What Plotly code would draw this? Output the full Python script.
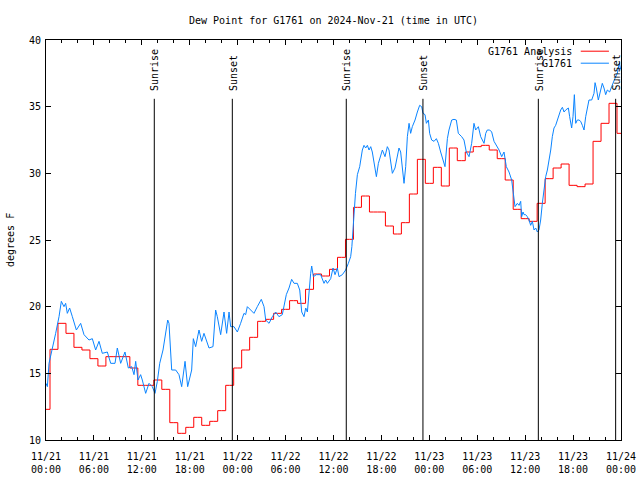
import pandas as pd
import plotly.graph_objects as go

# ---------------- data ----------------
BASE = "2024-11-21 00:00"

# hourly analysis values (hours after 11/21 00:00 UTC)
analysis_hours = list(range(0, 73))
analysis_values = [
    12.3, 16.8, 18.75, 18.0, 16.95, 16.75, 16.1, 15.55, 16.25, 16.25,
    16.25, 15.4, 14.1, 14.1, 14.5, 13.8, 11.3, 10.5, 10.95, 11.7,
    11.1, 11.4, 12.2, 14.1, 15.4, 16.75, 17.7, 18.9, 19.05, 19.5,
    19.8, 20.45, 20.25, 21.3, 22.45, 22.3, 22.8, 23.7, 25.05, 27.45,
    28.3, 27.1, 27.1, 26.05, 25.45, 26.3, 28.45, 31.05, 29.25, 30.45,
    29.05, 31.9, 30.95, 31.6, 32.0, 32.1, 31.75, 31.1, 29.5, 27.3,
    26.6, 26.4, 27.75, 29.6, 30.4, 30.7, 29.1, 29.0, 29.2, 32.4,
    33.75, 35.25, 33.0,
]

# station observations (hours after 11/21 00:00 UTC)
obs_hours = [
    0.0, 0.17, 0.38, 0.79, 1.21, 1.63, 1.92, 2.25, 2.46, 2.67, 2.96, 3.30, 3.80,
    4.34, 4.76, 5.38, 5.80, 6.22, 6.64, 7.05, 7.68, 8.10, 8.64, 8.93, 9.35, 9.89,
    10.31, 10.73, 11.02, 11.23, 11.52, 11.85, 12.06, 12.48, 12.90, 13.31, 13.65,
    13.94, 14.24, 14.65, 14.99, 15.24, 15.40, 15.74, 16.24, 16.65, 16.99, 17.41,
    17.74, 18.24, 18.45, 18.74, 19.16, 19.49, 19.78, 20.41, 20.91, 21.24, 21.45,
    21.87, 22.29, 22.62, 22.92, 23.12, 23.54, 23.96, 24.37, 24.79, 25.0, 25.21,
    25.63, 26.04, 26.46, 26.96, 27.30, 27.51, 27.93, 28.34, 28.76, 29.17, 29.59,
    29.80, 30.09, 30.43, 30.76, 31.06, 31.47, 31.77, 32.02, 32.31, 32.52, 32.73,
    32.94, 33.14, 33.27, 33.48, 33.85, 34.39, 34.81, 35.02, 35.23, 35.65, 35.94,
    36.19, 36.48, 36.69, 37.11, 37.52, 37.86, 38.15, 38.30, 38.44, 38.60, 38.75,
    38.99, 39.28, 39.61, 39.82, 40.03, 40.24, 40.45, 40.66, 40.86, 41.07, 41.37,
    41.62, 41.91, 42.12, 42.45, 42.74, 42.95, 43.16, 43.37, 43.70, 43.87, 44.20,
    44.41, 44.62, 44.83, 45.04, 45.25, 45.46, 45.66, 45.87, 46.21, 46.50, 46.79,
    47.04, 47.21, 47.46, 47.63, 47.88, 48.04, 48.29, 48.59, 48.88, 49.13, 49.42,
    49.71, 49.96, 50.26, 50.46, 50.80, 51.09, 51.38, 51.63, 52.05, 52.34, 52.63,
    52.97, 53.30, 53.59, 53.80, 54.14, 54.43, 54.64, 54.85, 55.06, 55.26, 55.56,
    55.81, 56.10, 56.39, 56.73, 57.06, 57.35, 57.64, 57.98, 58.31, 58.48, 58.73,
    59.02, 59.23, 59.44, 59.56, 59.73, 59.86, 60.06, 60.27, 60.48, 60.69, 60.90,
    61.11, 61.32, 61.53, 61.73, 61.94, 62.15, 62.36, 62.57, 62.78, 62.99, 63.20,
    63.40, 63.61, 63.82, 64.03, 64.24, 64.45, 64.66, 64.87, 65.07, 65.41, 65.57,
    65.82, 65.99, 66.16, 66.33, 66.53, 66.74, 66.95, 67.16, 67.37, 67.58, 67.79,
    67.99, 68.33, 68.62, 68.75, 68.91, 69.16, 69.46, 69.66, 69.87, 70.08, 70.29,
    70.58, 70.83, 71.13, 71.33, 71.54, 71.80, 71.95,
]
obs_values = [
    14.25, 14.0, 15.75, 17.0, 18.0, 19.25, 20.4, 20.0, 20.25, 19.5, 19.9, 19.25, 18.25,
    18.75, 17.9, 17.5, 17.6, 16.75, 17.4, 16.5, 16.6, 15.75, 15.75, 16.9, 15.75, 16.6,
    15.4, 15.5, 14.9, 15.9, 14.5, 14.9, 14.5, 13.5, 14.25, 14.0, 13.5,
    14.4, 15.75, 16.75, 18.25, 19.0, 18.75, 15.25, 15.25, 14.9, 14.0, 15.9,
    14.0, 15.25, 17.6, 17.0, 18.25, 17.4, 18.0, 16.9, 17.0, 19.75, 19.25,
    17.9, 19.6, 18.0, 19.6, 18.5, 18.5, 18.1, 18.75, 19.5, 19.4, 20.0,
    19.75, 19.5, 20.0, 20.55, 20.0, 19.0, 18.75, 19.25, 19.6, 19.25, 19.4,
    20.0, 20.9, 21.4, 22.05, 21.75, 21.75, 21.25, 19.6, 19.25, 19.9, 19.6,
    21.25, 22.5, 23.05, 22.25, 22.4, 22.4, 21.75, 22.0, 21.75, 22.1, 22.9,
    22.4, 22.9, 22.25, 22.4, 22.75, 23.25, 23.75, 24.5, 26.0, 27.5, 28.5,
    29.9, 30.5, 31.75, 32.1, 31.9, 32.1, 31.75, 32.0, 31.6, 30.75, 29.75,
    30.75, 31.25, 31.75, 31.25, 32.0, 31.75, 31.0, 30.0, 30.4, 31.0, 31.9,
    31.6, 30.25, 29.25, 30.5, 32.75, 33.75, 33.0, 33.5, 34.0, 34.6, 35.1,
    35.0, 34.5, 34.4, 33.75, 34.0, 33.0, 32.5, 32.4, 32.6, 32.25, 31.6,
    31.0, 30.5, 32.6, 33.25, 34.0, 34.05, 34.0, 33.0, 32.75, 32.5, 31.6,
    31.25, 32.25, 33.75, 33.25, 33.5, 32.75, 32.5, 32.25, 33.0, 33.25, 33.25,
    33.1, 32.4, 32.1, 31.75, 31.25, 31.6, 30.5, 30.1, 29.5, 28.5, 27.5,
    27.75, 27.6, 27.9, 26.75, 27.1, 26.9, 26.9, 26.75, 26.5, 26.1, 26.4,
    25.75, 25.9, 25.6, 25.75, 26.5, 27.75, 28.75, 29.75, 30.25, 30.9, 31.75,
    32.75, 33.4, 33.6, 34.0, 34.4, 34.75, 34.95, 34.6, 34.75, 34.9, 34.25,
    33.4, 34.25, 35.9, 33.75, 34.0, 34.0, 33.9, 33.6, 33.25, 34.25, 34.9,
    35.5, 35.5, 36.0, 36.8, 36.4, 35.5, 36.25, 36.75, 36.4, 35.9, 36.25,
    36.1, 36.5, 37.0, 37.25, 37.5, 38.3, 37.8,
]

# sun events (hours after 11/21 00:00 UTC)
event_hours = [13.56, 23.33, 37.6, 47.2, 61.65, 71.33]
event_labels = ["Sunrise", "Sunset", "Sunrise", "Sunset", "Sunrise", "Sunset"]

tick_hours = list(range(0, 73, 6))
tick_labels = [
    "11/21<br>00:00", "11/21<br>06:00", "11/21<br>12:00", "11/21<br>18:00",
    "11/22<br>00:00", "11/22<br>06:00", "11/22<br>12:00", "11/22<br>18:00",
    "11/23<br>00:00", "11/23<br>06:00", "11/23<br>12:00", "11/23<br>18:00",
    "11/24<br>00:00",
]
y_ticks = [10, 15, 20, 25, 30, 35, 40]

series_names = ["G1761 Analysis", "G1761"]
series_colors = ["#ff0000", "#0a84ff"]

# ---------------- helpers ----------------
base = pd.Timestamp(BASE)


def to_time(hours):
    return [base + pd.Timedelta(hours=h) for h in hours]


FONT = "DejaVu Sans Mono"
FIG_W, FIG_H = 640, 480

fig = go.Figure()
fig.add_trace(go.Scatter(
    x=to_time(analysis_hours), y=analysis_values, mode="lines",
    line=dict(color=series_colors[0], width=1, shape="hvh"),
    name=series_names[0], showlegend=False,
))
fig.add_trace(go.Scatter(
    x=to_time(obs_hours), y=obs_values, mode="lines",
    line=dict(color=series_colors[1], width=1),
    name=series_names[1], showlegend=False,
))

shapes = []
annotations = []
for t, lab in zip(to_time(event_hours), event_labels):
    shapes.append(dict(type="line", xref="x", yref="paper", x0=t, x1=t,
                       y0=0, y1=0.853, line=dict(color="black", width=1)))
    annotations.append(dict(x=t, xref="x", y=0.868, yref="paper", text=lab,
                            textangle=-90, showarrow=False, xanchor="center",
                            yanchor="bottom", xshift=1,
                            font=dict(family=FONT, size=10, color="black")))

# gnuplot-style key (text left, sample right)
key_y = [0.972, 0.942]
for name, color, ky in zip(series_names, series_colors, key_y):
    annotations.append(dict(x=0.918, xref="paper", y=ky, yref="paper", text=name,
                            showarrow=False, xanchor="right", yanchor="middle",
                            font=dict(family=FONT, size=10, color="black")))
    shapes.append(dict(type="line", xref="paper", yref="paper", x0=0.930, x1=0.979,
                       y0=ky, y1=ky, line=dict(color=color, width=1)))

# y axis title
annotations.append(dict(x=-0.0626, xref="paper", y=0.5, yref="paper", text="degrees F",
                        textangle=-90, showarrow=False, xanchor="center", yanchor="middle",
                        font=dict(family=FONT, size=10, color="black")))

fig.update_layout(
    width=FIG_W, height=FIG_H,
    margin=dict(l=46, r=19, t=40, b=40, autoexpand=False),
    paper_bgcolor="white", plot_bgcolor="white",
    font=dict(family=FONT, size=10, color="black"),
    title=dict(text="Dew Point for G1761 on 2024-Nov-21 (time in UTC)",
               x=0.5, xref="paper", xanchor="center",
               y=1 - 20 / FIG_H, yref="container", yanchor="middle",
               font=dict(family=FONT, size=10, color="black")),
    shapes=shapes, annotations=annotations,
    showlegend=False,
)
fig.update_xaxes(
    type="date", range=[to_time([0])[0], to_time([72])[0]],
    tickmode="array", tickvals=to_time(tick_hours), ticktext=tick_labels,
    ticks="inside", ticklen=5, tickcolor="black", tickwidth=1,
    minor=dict(tickmode="linear", tick0=base, dtick=2 * 3600 * 1000,
               ticks="inside", ticklen=3, tickcolor="black", showgrid=False),
    showline=True, linecolor="black", linewidth=1, mirror="allticks",
    showgrid=False, zeroline=False, ticklabelstandoff=7,
    tickfont=dict(family=FONT, size=10, color="black"),
)
fig.update_yaxes(
    range=[10, 40], tickmode="array", tickvals=y_ticks,
    ticks="inside", ticklen=5, tickcolor="black", tickwidth=1,
    showline=True, linecolor="black", linewidth=1, mirror="allticks",
    showgrid=False, zeroline=False, ticklabelstandoff=2,
    tickfont=dict(family=FONT, size=10, color="black"),
)

# remove the default 8px page margin so the figure fills the 640x480 window
fig.write_html("out.html", config={"displayModeBar": False},
               post_script="document.body.style.margin='0';document.body.style.overflow='hidden';")
